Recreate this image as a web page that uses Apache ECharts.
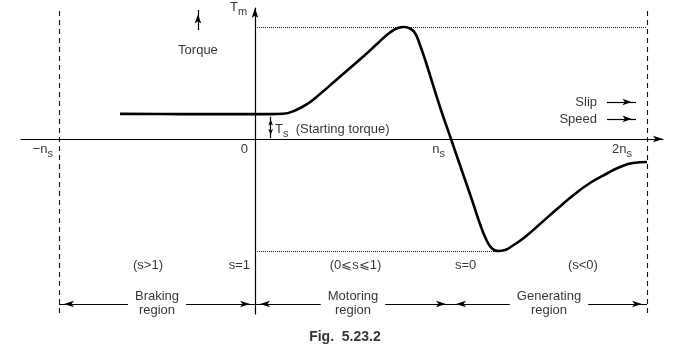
<!DOCTYPE html>
<html><head><meta charset="utf-8">
<script src="https://cdn.jsdelivr.net/npm/echarts@6/dist/echarts.min.js"></script>
<style>html,body{margin:0;padding:0;background:#fff}#c{width:675px;height:349px}</style>
</head><body><div id="c"></div>
<script>
// ---- Data (speed in units of n_s, torque in units of T_m) ----
const speed  = [-0.689, -0.48, -0.28, 0.0, 0.0765, 0.1429, 0.2041, 0.2704, 0.3316, 0.4082, 0.4847, 0.5612, 0.6276, 0.6888, 0.7296, 0.7602, 0.7908, 0.8163, 0.8418, 0.8724, 0.9439, 1.0, 1.0561, 1.1071, 1.148, 1.1786, 1.2092, 1.2398, 1.2755, 1.3163, 1.3776, 1.4541, 1.5408, 1.6224, 1.7092, 1.7959, 1.8622, 1.9286, 2.0];
const torque = [0.224, 0.223, 0.222, 0.222, 0.222, 0.225, 0.2545, 0.317, 0.4018, 0.5179, 0.6339, 0.75, 0.8571, 0.9509, 0.9911, 1.0, 0.9866, 0.9464, 0.8393, 0.683, 0.2857, 0.0, -0.2857, -0.5446, -0.7589, -0.8929, -0.9777, -1.0, -0.9911, -0.9509, -0.875, -0.7589, -0.625, -0.5045, -0.3929, -0.308, -0.25, -0.2143, -0.2054];
const tickValues = [-1, 0, 1, 2];
const tickLabels = ['−n{s|s}', '0', 'n{s|s}', '2n{s|s}'];
const regionBounds = [-1, 0, 1, 2];
const regionNames = ['Braking\nregion', 'Motoring\nregion', 'Generating\nregion'];
const slipConditions = ['(s>1)', '(0⩽s⩽1)', '(s<0)'];
const slipMarks = ['s=1', 's=0'];
const slipMarkAt = [0, 1];
const axisTitle = 'T{s|m}';
const startLabel = 'T{s|s}  (Starting torque)';
const startTorque = 0.2;
const caption = 'Fig.  5.23.2';

// ---- Layout ----
const W = 675, H = 349;
const X0 = 255, XU = 196, Y0 = 139, YU = 112;
const G = {left: 21, right: 12, top: 8, bottom: 35};
const xMin = (G.left - X0) / XU, xMax = (W - G.right - X0) / XU;
const yMax = (Y0 - G.top) / YU, yMin = (Y0 - (H - G.bottom)) / YU;
const FONT = '"Liberation Sans", Arial, Helvetica, sans-serif';
const rich = {s: {fontSize: 11, fontFamily: FONT, color: '#000', padding: [9, 0, 0, 0]}};

const maxT = Math.max(...torque), minT = Math.min(...torque);
const minAt = speed[torque.indexOf(minT)];

function seg(p1, p2, s1, s2, size, style) {
  const ls = Object.assign({color: '#000', width: 1.2, type: 'solid'}, style || {});
  const sz = size || [4, 9];
  return [
    {coord: p1, symbol: s1 || 'none', symbolSize: sz, symbolOffset: [0, sz[1] / 2], lineStyle: ls},
    {coord: p2, symbol: s2 || 'none', symbolSize: sz, symbolOffset: [0, sz[1] / 2], lineStyle: ls}
  ];
}

const ctx = document.createElement('canvas').getContext('2d');
ctx.font = '13px ' + FONT;
function textW(t) { return Math.max(...t.split('\n').map(l => ctx.measureText(l).width)); }

const lines = [];
const dash = {type: [5, 4], width: 1.1, color: '#111'};
const dot = {type: [1, 1], width: 1, color: '#222'};
const topDash = 1.143;
[-1, 1, 2].forEach(v => lines.push(seg([v, topDash], [v, v === 1 ? -1.616 : yMin], 'none', 'none', null, dash)));
lines.push(seg([0, maxT], [2, maxT], 'none', 'none', null, dot));
lines.push(seg([0, minT], [minAt, minT], 'none', 'none', null, dot));
// Torque arrow
lines.push(seg([-0.291, 0.973], [-0.291, 1.152], 'none', 'arrow', [5, 9]));
// Starting torque double arrow
lines.push(seg([0.080, startTorque], [0.080, 0.009], 'arrow', 'arrow', [3.5, 6]));
// Slip / Speed arrows
lines.push(seg([1.796, 0.330], [1.944, 0.330], 'none', 'arrow', [5, 9]));
lines.push(seg([1.796, 0.179], [1.944, 0.179], 'none', 'arrow', [5, 9]));
// Region arrows
const yR = -1.473;
regionNames.forEach((n, i) => {
  const a = regionBounds[i], b = regionBounds[i + 1], c = (a + b) / 2;
  const hg = (textW(n) / 2 + 7) / XU;
  lines.push(seg([a, yR], [c - hg, yR], 'arrow', 'none', [5, 10]));
  lines.push(seg([c + hg, yR], [b, yR], 'none', 'arrow', [5, 10]));
});

function T(txt, x, y, align, extra) {
  return {value: [x, y], label: Object.assign({formatter: txt, align: align}, extra || {})};
}
const texts = [];
texts.push(T(axisTitle, -0.04, 1.174, 'right'));
texts.push(T('Torque', -0.291, 0.795, 'center'));
texts.push(T(startLabel, 0.102, 0.085, 'left'));
const tickOff = [-6, -7, -6, -15];
tickValues.forEach((v, i) => texts.push(T(tickLabels[i], v, -0.09, 'right', {offset: [tickOff[i], 0]})));
texts.push(T('Slip', 1.745, 0.330, 'right'));
texts.push(T('Speed', 1.745, 0.179, 'right'));
const condX = [-0.546, 0.513, 1.673];
slipConditions.forEach((t, i) => texts.push(T(t, condX[i], -1.125, 'center')));
texts.push(T(slipMarks[0], slipMarkAt[0], -1.125, 'right', {offset: [-5, 0]}));
texts.push(T(slipMarks[1], slipMarkAt[1], -1.125, 'left', {offset: [4, 0]}));
regionNames.forEach((n, i) => texts.push(T(n, (regionBounds[i] + regionBounds[i + 1]) / 2, -1.464, 'center', {lineHeight: 14})));
texts.push(T(caption, 0.459, -1.768, 'center', {fontWeight: 'bold', fontSize: 14}));

const chart = echarts.init(document.getElementById('c'), null, {renderer: 'canvas'});
const axisCommon = {
  type: 'value', axisTick: {show: false}, axisLabel: {show: false}, splitLine: {show: false},
  axisLine: {show: true, onZero: true, symbol: ['none', 'arrow'], symbolSize: [5, 10], lineStyle: {color: '#000', width: 1.2}}
};
chart.setOption({
  animation: false,
  backgroundColor: '#fff',
  grid: G,
  xAxis: Object.assign({min: xMin, max: xMax}, axisCommon),
  yAxis: Object.assign({min: yMin, max: yMax}, axisCommon),
  series: [
    {type: 'line', data: speed.map((s, i) => [s, torque[i]]), showSymbol: false, smooth: 0.5,
     lineStyle: {color: '#000', width: 2.6}, z: 5, silent: true, clip: false},
    {type: 'line', data: [], clip: false, silent: true,
     markLine: {silent: true, animation: false, symbol: 'none', label: {show: false}, data: lines}},
    {type: 'scatter', data: texts, symbolSize: 0, clip: false, silent: true, z: 10,
     label: {show: true, position: 'inside', verticalAlign: 'middle', color: '#000', fontSize: 13, fontFamily: FONT, rich: rich}}
  ]
});
</script>
</body></html>
